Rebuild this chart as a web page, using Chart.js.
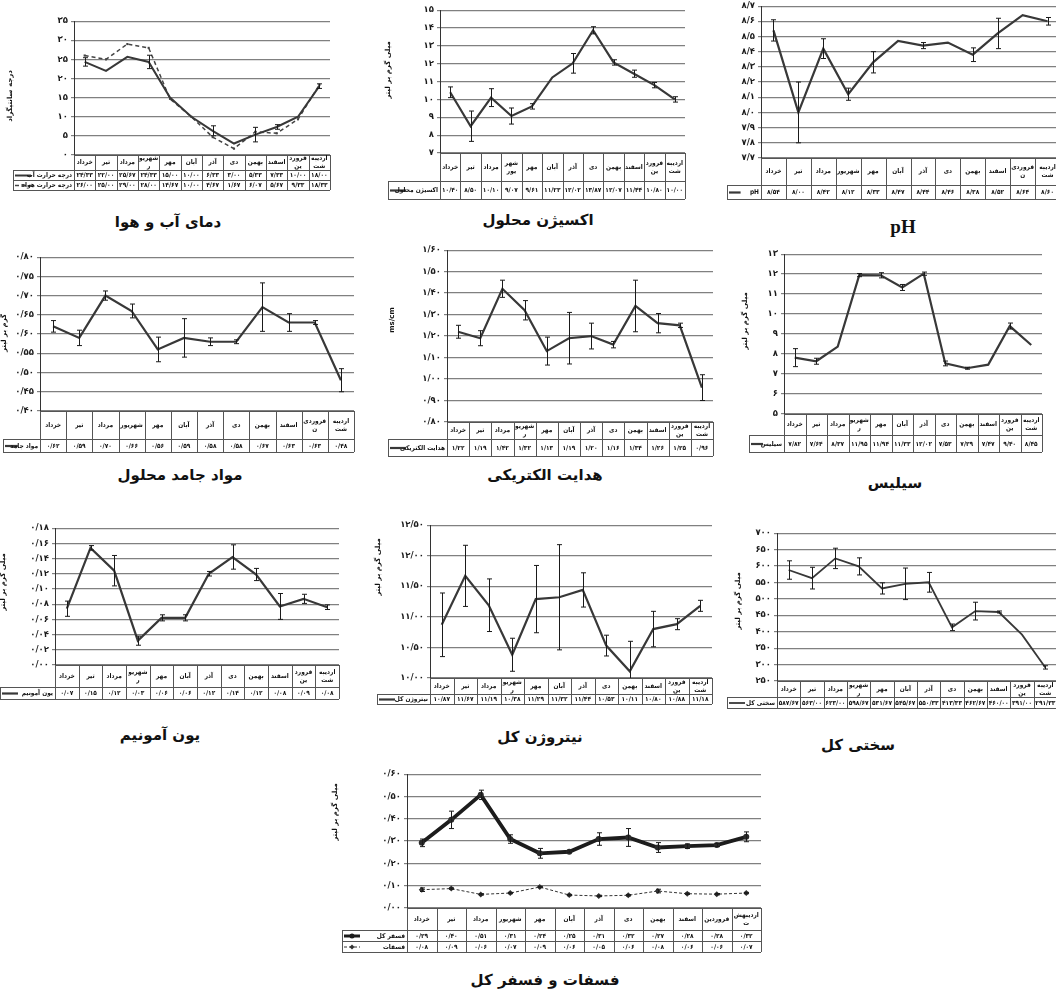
<!DOCTYPE html>
<html><head><meta charset="utf-8">
<script src="https://cdn.jsdelivr.net/npm/chart.js@4.4.1/dist/chart.umd.min.js"></script>
<style>
html,body{margin:0;padding:0;background:#fff;width:1056px;height:992px;overflow:hidden;position:relative}
canvas{position:absolute}
.ttl{position:absolute;transform:translate(-50%,-50%);font:bold 15px "DejaVu Sans";color:#111;white-space:nowrap;direction:rtl}
.ttl.ph{font:bold 19px "Liberation Serif";direction:ltr}
</style></head><body>
<script>
// ---------- categories ----------
const months = ['خرداد','تیر','مرداد','شهریور','مهر','آبان','آذر','دی','بهمن','اسفند','فروردین','اردیبهشت'];

// ---------- series values ----------
const waterTemp    = [24.33,22.00,25.67,24.33,15.00,10.00,6.33,3.00,5.33,7.33,10.00,18.00];
const waterTempErr = [1.1,0,0,1.75,0,0,1.3,0,1.9,0.6,0,0.6];
const airTemp      = [26.00,25.00,29.00,28.00,14.67,10.00,4.67,1.67,6.07,5.67,9.33,18.33];

const oxygen    = [10.40,8.50,10.10,9.07,9.61,11.23,12.02,13.87,12.07,11.44,10.80,10.00];
const oxygenErr = [0.3,0.85,0.5,0.45,0.15,0,0.55,0.2,0.15,0.2,0.15,0.15];

const ph    = [8.54,8.00,8.42,8.12,8.33,8.47,8.44,8.46,8.38,8.52,8.64,8.60];
const phErr = [0.07,0.2,0.065,0.04,0.07,0,0.02,0,0.045,0.1,0,0.025];

const tds    = [0.62,0.59,0.70,0.66,0.56,0.59,0.58,0.58,0.67,0.63,0.63,0.48];
const tdsErr = [0.015,0.02,0.012,0.018,0.032,0.05,0.01,0.005,0.063,0.023,0.005,0.03];

const ec    = [1.22,1.19,1.42,1.32,1.13,1.19,1.20,1.16,1.34,1.26,1.25,0.96];
const ecErr = [0.03,0.035,0.04,0.045,0.065,0.12,0.06,0.015,0.12,0.045,0.01,0.06];

const silica    = [7.82,7.64,8.37,11.95,11.94,11.33,12.02,7.53,7.29,7.47,9.40,8.45];
const silicaErr = [0.45,0.15,0,0.08,0.13,0.15,0.08,0.12,0.05,0,0.15,0];

const ammonium    = [0.074,0.154,0.124,0.032,0.062,0.062,0.120,0.142,0.119,0.077,0.087,0.076];
const ammoniumErr = [0.01,0.003,0.02,0.006,0.004,0.004,0.003,0.016,0.008,0.017,0.006,0.003];

const nitrogen    = [10.87,11.67,11.19,10.38,11.29,11.32,11.44,10.53,10.11,10.80,10.88,11.18];
const nitrogenErr = [0.52,0.5,0.43,0.27,0.55,0.86,0.28,0.17,0.49,0.29,0.09,0.09];

const hardness    = [587.67,563.00,623.00,598.67,531.67,545.67,550.33,413.33,462.67,460.00,391.00,291.33];
const hardnessErr = [28,33,31,26,17,48,30,10,27,3,0,5];

const totalP     = [0.292,0.395,0.507,0.309,0.245,0.252,0.309,0.316,0.271,0.277,0.282,0.319];
const totalPErr  = [0.017,0.039,0.021,0.019,0.022,0.004,0.028,0.04,0.022,0.01,0.007,0.022];
const phosphate  = [0.082,0.087,0.061,0.067,0.094,0.058,0.054,0.057,0.076,0.064,0.062,0.067];
const phosphateErr = [0.008,0.003,0.003,0.003,0.003,0.003,0.003,0.003,0.008,0.003,0.003,0.003];

// ---------- helpers ----------
const FA = '۰۱۲۳۴۵۶۷۸۹';
function fa(v, d) { return Number(v).toFixed(d).replace(/[0-9]/g, c => FA[c]).replace('.', '/'); }
const SMALL = 'bold 6.5px "DejaVu Sans Condensed", "DejaVu Sans"';

function wrapText(ctx, t, w) {
  if (ctx.measureText(t).width <= w) return [t];
  let k = t.length - 1;
  while (k > 1 && ctx.measureText(t.slice(0, k)).width > w) k--;
  return [t.slice(0, k), t.slice(k)];
}
function crisp(v) { return Math.round(v) + 0.5; }

function drawMarker(ctx, style, x, y, r) {
  ctx.beginPath();
  if (style === 'rectRot') { ctx.moveTo(x, y - r); ctx.lineTo(x + r, y); ctx.lineTo(x, y + r); ctx.lineTo(x - r, y); ctx.closePath(); }
  else if (style === 'rect') { ctx.rect(x - r, y - r, 2 * r, 2 * r); }
  else { ctx.arc(x, y, r, 0, Math.PI * 2); }
  ctx.fill();
}

const deco = {
  id: 'deco',
  afterDatasetsDraw(chart) {
    const ctx = chart.ctx, ca = chart.chartArea, xs = chart.scales.x, ys = chart.scales.y;
    ctx.save();
    ctx.beginPath(); ctx.rect(ca.left, ca.top - 2, ca.right - ca.left, ca.bottom - ca.top + 2); ctx.clip();
    ctx.strokeStyle = '#1a1a1a'; ctx.lineWidth = 1; ctx.setLineDash([]);
    chart.data.datasets.forEach(ds => {
      if (!ds.err) return;
      ds.data.forEach((v, i) => {
        const e = ds.err[i]; if (!e) return;
        const x = Math.round(xs.getPixelForValue(i)) + 0.5;
        const y1 = ys.getPixelForValue(v + e), y2 = ys.getPixelForValue(v - e);
        ctx.beginPath();
        ctx.moveTo(x, y1); ctx.lineTo(x, y2);
        ctx.moveTo(x - 2.5, y1); ctx.lineTo(x + 2.5, y1);
        ctx.moveTo(x - 2.5, y2); ctx.lineTo(x + 2.5, y2);
        ctx.stroke();
      });
    });
    ctx.restore();
  },
  afterDraw(chart) {
    const p = chart.canvas.__cfg;
    const ctx = chart.ctx, ca = chart.chartArea, xs = chart.scales.x;
    const n = months.length, colW = (ca.right - ca.left) / n;
    const tl = p.x0 - p.cl;
    const top = ca.bottom;
    const total = p.rows.reduce((a, b) => a + b, 0);
    const bottom = top + total;
    ctx.save();
    ctx.strokeStyle = '#555'; ctx.lineWidth = 1; ctx.setLineDash([]);
    ctx.beginPath();
    ctx.moveTo(ca.left, crisp(top)); ctx.lineTo(ca.right, crisp(top));
    let yy = top + p.rows[0];
    for (let r = 1; r <= p.rows.length - 1; r++) {
      ctx.moveTo(tl, crisp(yy)); ctx.lineTo(ca.right, crisp(yy));
      yy += p.rows[r];
    }
    ctx.moveTo(tl, crisp(bottom)); ctx.lineTo(ca.right, crisp(bottom));
    for (let k = 0; k <= n; k++) {
      const x = crisp(ca.left + k * colW);
      ctx.moveTo(x, top); ctx.lineTo(x, bottom);
    }
    ctx.moveTo(crisp(tl), top + p.rows[0]); ctx.lineTo(crisp(tl), bottom);
    ctx.stroke();

    ctx.fillStyle = '#111'; ctx.font = SMALL; ctx.textAlign = 'center'; ctx.textBaseline = 'middle';
    months.forEach((m, i) => {
      const cx = xs.getPixelForValue(i);
      const lines = wrapText(ctx, m, colW - 2);
      const lh = Math.min(8, p.rows[0] / lines.length);
      const cy = top + p.rows[0] / 2 - (lines.length - 1) * lh / 2;
      lines.forEach((l, j) => ctx.fillText(l, cx, cy + j * lh));
    });
    let ry = top + p.rows[0];
    chart.data.datasets.forEach((ds, di) => {
      const h = p.rows[di + 1];
      const cy = ry + h / 2 + 0.5;
      ctx.fillStyle = '#111'; ctx.font = SMALL; ctx.textAlign = 'center';
      ds.data.forEach((v, i) => ctx.fillText(fa(v, p.valDec), xs.getPixelForValue(i), cy));
      const lx0 = tl + 2, lx1 = tl + Math.min(18, (ca.left - tl) * 0.4);
      ctx.save();
      ctx.beginPath(); ctx.rect(tl + 1, ry, ca.left - tl - 2, h); ctx.clip();
      ctx.strokeStyle = ds.borderColor; ctx.lineWidth = Math.min(ds.borderWidth, 3);
      ctx.setLineDash(ds.borderDash || []);
      ctx.beginPath(); ctx.moveTo(lx0, cy); ctx.lineTo(lx1, cy); ctx.stroke();
      if (ds.pointRadius) { ctx.fillStyle = ds.borderColor; drawMarker(ctx, ds.pointStyle, (lx0 + lx1) / 2, cy, Math.min(2.5, ds.pointRadius)); }
      ctx.fillStyle = '#111'; ctx.textAlign = 'right'; ctx.font = SMALL;
      ctx.fillText(ds.label, ca.left - 2, cy);
      ctx.restore();
      ry += h;
    });
    if (p.yTitle) {
      ctx.save();
      ctx.translate(p.yTitleX - p.cl, p.yTitleY - p.ct);
      ctx.rotate(-Math.PI / 2);
      ctx.font = 'bold 7px "DejaVu Sans"'; ctx.fillStyle = '#111';
      ctx.textAlign = 'center'; ctx.textBaseline = 'middle';
      ctx.fillText(p.yTitle, 0, 0);
      ctx.restore();
    }
    ctx.restore();
  }
};

function mainLine(label, data, err, extra) {
  return Object.assign({ label, data, err, borderColor: '#383838', borderWidth: 2.2, pointRadius: 0, tension: 0, fill: false }, extra || {});
}

function panel(p) {
  const cl = Math.floor(Math.min(p.x0, p.yTitle ? p.yTitleX - 6 : p.x0));
  const ct = p.yTop - 8;
  const total = p.rows.reduce((a, b) => a + b, 0);
  const W = Math.ceil(p.plotRight - cl + 3);
  const H = Math.ceil(p.yBottom + total + 2 - ct);
  const cv = document.createElement('canvas');
  cv.width = W; cv.height = H;
  cv.style.left = cl + 'px'; cv.style.top = ct + 'px';
  document.body.appendChild(cv);
  p.cl = cl; p.ct = ct;
  cv.__cfg = p;
  new Chart(cv, {
    type: 'line',
    data: { labels: months, datasets: p.series },
    options: {
      responsive: false, animation: false, devicePixelRatio: 1,
      layout: { padding: { top: 8, bottom: H - (p.yBottom - ct), left: 0, right: W - (p.plotRight - cl) } },
      plugins: { legend: { display: false }, tooltip: { enabled: false }, title: { display: false } },
      scales: {
        x: { type: 'category', offset: true, display: false },
        y: {
          min: p.min, max: p.max,
          ticks: { stepSize: p.step, autoSkip: false, padding: 3, color: '#1a1a1a',
                   font: { family: 'DejaVu Sans', size: 8.5, weight: 'bold' },
                   callback: v => fa(v, p.tickDec) },
          grid: { color: '#808080', lineWidth: 1.2, tickLength: 3 },
          border: { color: '#333', width: 1 },
          afterFit: s => { s.width = p.axisX - cl; }
        }
      }
    },
    plugins: [deco]
  });
  const t = document.createElement('div');
  t.className = 'ttl' + (p.titleClass ? ' ' + p.titleClass : '');
  t.textContent = p.title;
  t.style.left = p.titleX + 'px'; t.style.top = p.titleY + 'px';
  document.body.appendChild(t);
}

const MG = 'میلی گرم بر لیتر';

panel({ x0: 13, axisX: 74, plotRight: 330.5, yTop: 21, yBottom: 155, rows: [15, 10, 10],
  min: 0, max: 35, step: 5, tickDec: 0, valDec: 2, yTitle: 'درجه سانتیگراد', yTitleX: 10, yTitleY: 96,
  title: 'دمای آب و هوا', titleX: 168, titleY: 222,
  series: [mainLine('درجه حرارت آب', waterTemp, waterTempErr, { borderWidth: 2 }),
           mainLine('درجه حرارت هوا', airTemp, null, { borderWidth: 1.5, borderDash: [4, 3], borderColor: '#444', pointRadius: 1.5, pointStyle: 'rect', pointBackgroundColor: '#444', pointBorderWidth: 0 })] });

panel({ x0: 388, axisX: 440, plotRight: 685, yTop: 10, yBottom: 153, rows: [28, 18],
  min: 7, max: 15, step: 1, tickDec: 0, valDec: 2, yTitle: MG, yTitleX: 388, yTitleY: 70,
  title: 'اکسیژن محلول', titleX: 538, titleY: 220,
  series: [mainLine('اکسیژن محلول', oxygen, oxygenErr)] });

panel({ x0: 727, axisX: 761, plotRight: 1060, yTop: 6, yBottom: 158, rows: [27, 14],
  min: 7.7, max: 8.7, step: 0.1, tickDec: 1, valDec: 2,
  title: 'pH', titleClass: 'ph', titleX: 903, titleY: 227,
  series: [mainLine('pH', ph, phErr)] });

panel({ x0: 3, axisX: 40, plotRight: 354, yTop: 257, yBottom: 411, rows: [28, 13],
  min: 0.4, max: 0.8, step: 0.05, tickDec: 2, valDec: 2, yTitle: 'گرم بر لیتر', yTitleX: 4, yTitleY: 333,
  title: 'مواد جامد محلول', titleX: 180, titleY: 475,
  series: [mainLine('مواد جامد', tds, tdsErr)] });

panel({ x0: 388, axisX: 447, plotRight: 713, yTop: 250, yBottom: 422, rows: [17, 17],
  min: 0.8, max: 1.6, step: 0.1, tickDec: 2, valDec: 2, yTitle: 'ms/cm', yTitleX: 392, yTitleY: 320,
  title: 'هدایت الکتریکی', titleX: 545, titleY: 475,
  series: [mainLine('هدایت الکتریکی', ec, ecErr)] });

panel({ x0: 749, axisX: 784, plotRight: 1042, yTop: 254, yBottom: 414, rows: [21, 17],
  min: 5, max: 13, step: 1, tickDec: 0, valDec: 2, yTitle: MG, yTitleX: 745, yTitleY: 321,
  title: 'سیلیس', titleX: 895, titleY: 483,
  series: [mainLine('سیلیس', silica, silicaErr)] });

panel({ x0: 0, axisX: 55, plotRight: 339, yTop: 528, yBottom: 665, rows: [22, 12],
  min: 0, max: 0.18, step: 0.02, tickDec: 2, valDec: 2, yTitle: MG, yTitleX: 3, yTitleY: 582,
  title: 'یون آمونیم', titleX: 160, titleY: 735,
  series: [mainLine('یون آمونیم', ammonium, ammoniumErr)] });

panel({ x0: 377, axisX: 430, plotRight: 712, yTop: 525, yBottom: 678, rows: [16, 10],
  min: 10, max: 12.5, step: 0.5, tickDec: 2, valDec: 2, yTitle: MG, yTitleX: 378, yTitleY: 567,
  title: 'نیتروژن کل', titleX: 540, titleY: 737,
  series: [mainLine('نیتروژن کل', nitrogen, nitrogenErr)] });

panel({ x0: 727, axisX: 777, plotRight: 1057, yTop: 533, yBottom: 681, rows: [16, 11],
  min: 250, max: 700, step: 50, tickDec: 0, valDec: 2, yTitle: MG, yTitleX: 738, yTitleY: 601,
  title: 'سختی کل', titleX: 858, titleY: 745,
  series: [mainLine('سختی کل', hardness, hardnessErr, { borderWidth: 1.8 })] });

panel({ x0: 342, axisX: 407, plotRight: 762, yTop: 774, yBottom: 908, rows: [22, 11, 11],
  min: 0, max: 0.6, step: 0.1, tickDec: 2, valDec: 2, yTitle: MG, yTitleX: 335, yTitleY: 812,
  title: 'فسفات و فسفر کل', titleX: 545, titleY: 980,
  series: [mainLine('فسفر کل', totalP, totalPErr, { borderWidth: 3.8, borderColor: '#1c1c1c', pointRadius: 3, pointStyle: 'circle', pointBackgroundColor: '#2a2a2a', pointBorderWidth: 0 }),
           mainLine('فسفات', phosphate, phosphateErr, { borderWidth: 1, borderDash: [3, 2], borderColor: '#333', pointRadius: 3, pointStyle: 'rectRot', pointBackgroundColor: '#333', pointBorderWidth: 0 })] });
</script>
</body></html>
